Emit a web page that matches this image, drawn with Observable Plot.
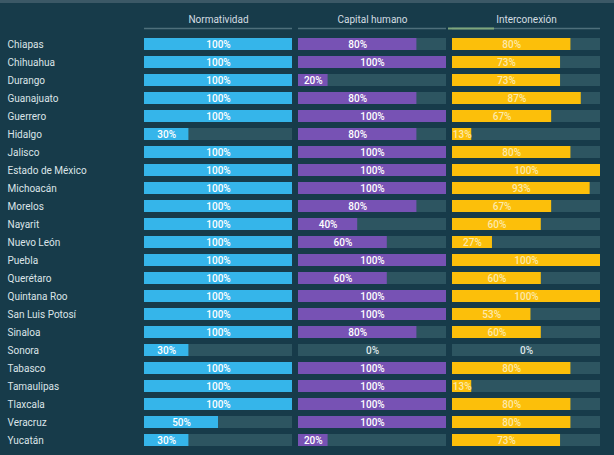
<!DOCTYPE html>
<html><head><meta charset="utf-8">
<script src="https://cdn.jsdelivr.net/npm/d3@7"></script>
<script src="https://cdn.jsdelivr.net/npm/@observablehq/plot@0.6"></script>
<style>
html,body{margin:0;padding:0;background:#173b4a;overflow:hidden;}
</style></head><body><div id="chart"></div>
<script>
const states = ["Chiapas","Chihuahua","Durango","Guanajuato","Guerrero","Hidalgo","Jalisco","Estado de México","Michoacán","Morelos","Nayarit","Nuevo León","Puebla","Querétaro","Quintana Roo","San Luis Potosí","Sinaloa","Sonora","Tabasco","Tamaulipas","Tlaxcala","Veracruz","Yucatán"];
const indicators = ["Normatividad","Capital humano","Interconexión"];
const normatividad = [100,100,100,100,100,30,100,100,100,100,100,100,100,100,100,100,100,30,100,100,100,50,30];
const capitalHumano = [80,100,20,80,100,80,100,100,100,80,40,60,100,60,100,100,80,0,100,100,100,100,20];
const interconexion = [80,73,73,87,67,13,80,100,93,67,60,27,100,60,100,53,60,0,80,13,80,80,73];
const barColors = ["#35b5ea","#7752b4","#fcbf0a"];
const textColors = ["#ffffff","#ffffff","#fde9a8"];

const series = [normatividad, capitalHumano, interconexion];
const rows = indicators.flatMap((ind, j) => states.map((s, i) => ({state: s, indicator: ind, value: series[j][i]})));

const chart = Plot.plot({
  width: 614, height: 455,
  marginLeft: 143, marginRight: 12, marginTop: 32, marginBottom: 3,
  style: {background: "#173b4a", color: "#dce4e8", fontFamily: "Roboto, sans-serif", fontSize: "10px"},
  fx: {domain: indicators, paddingInner: 0.0387, paddingOuter: 0, label: null},
  x: {domain: [0, 100], axis: null},
  y: {domain: states, paddingInner: 0.33, paddingOuter: 0.165, label: null},
  color: {domain: indicators, range: barColors},
  marks: [
    Plot.axisFx({anchor: "top", tickSize: 0, tickPadding: 10, label: null, fill: "#d4dde2", fontSize: 10}),
    Plot.axisY({tickSize: 0, tickPadding: 137, textAnchor: "start", label: null, fill: "#dce4e8", fontSize: 10}),
    Plot.barX(rows, {fx: "indicator", y: "state", x1: 0, x2: 100, fill: "#2d5561"}),
    Plot.barX(rows, {fx: "indicator", y: "state", x1: 0, x2: "value", fill: "indicator"}),
    ...indicators.map((ind, j) => Plot.text(rows.filter(d => d.indicator === ind), {
      fx: "indicator", y: "state",
      x: d => d.value === 0 ? 50 : d.value / 2,
      text: d => d.value + "%",
      fill: d => d.value === 0 ? "#dfe7ea" : textColors[j],
      fontSize: 10, fontWeight: 500
    }))
  ]
});

const svg = d3.select(chart);
svg.insert("rect", ":first-child").attr("x", 0).attr("y", 0).attr("width", 614).attr("height", 3).attr("fill", "#3b5866");
const fx = chart.scale("fx");
indicators.forEach((ind, j) => {
  const x0 = fx.apply(ind);
  svg.append("line").attr("x1", x0).attr("x2", x0 + fx.bandwidth).attr("y1", 28.5).attr("y2", 28.5)
    .attr("stroke", "#4e6f7b").attr("stroke-width", 1.5);
  if (j === 2) {
    svg.append("line").attr("x1", x0 - 4).attr("x2", x0 + 42).attr("y1", 28.5).attr("y2", 28.5)
      .attr("stroke", "#7ea67c").attr("stroke-width", 2);
  }
});
document.getElementById("chart").appendChild(chart);
</script>
</body></html>
